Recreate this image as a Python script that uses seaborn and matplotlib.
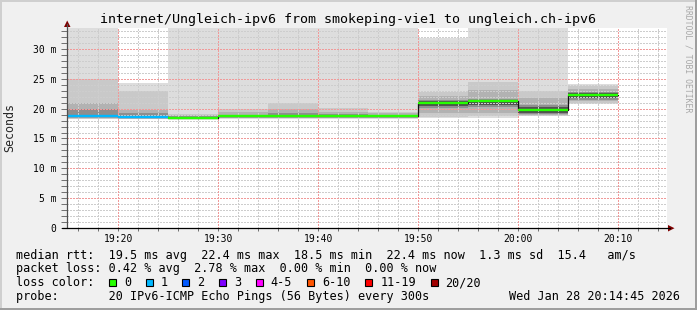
import numpy as np
import pandas as pd
import matplotlib
matplotlib.use("Agg")
import matplotlib.pyplot as plt
import seaborn as sns
from matplotlib.patches import Rectangle, Polygon
from matplotlib.lines import Line2D

# ---------------- data ----------------
title = "internet/Ungleich-ipv6 from smokeping-vie1 to ungleich.ch-ipv6"
# segment start, minutes after 19:00 (5 minute steps)
seg_start = [10, 15, 20, 25, 30, 35, 40, 45, 50, 55, 60, 65]
median_ms = [18.8, 18.8, 18.6, 18.5, 18.7, 18.8, 18.8, 18.8, 21.0, 21.3, 19.7, 22.3]
loss_pings = [0, 1, 1, 0, 0, 0, 0, 0, 0, 0, 0, 0]
max_ms = [36.0, 36.0, 24.3, 36.0, 36.0, 36.0, 36.0, 36.0, 31.8, 36.0, 36.0, 24.2]
p2_hi = [25.0, 25.0, 23.0, 19.1, 19.9, 21.0, 20.1, 19.5, 22.8, 24.5, 22.9, 23.8]
p3_hi = [20.9, 20.9, 19.8, 18.9, 19.4, 19.9, 19.5, 19.2, 22.2, 23.1, 21.8, 23.3]
p4_hi = [20.0, 20.0, 19.3, 18.8, 19.0, 19.2, 19.1, 19.0, 21.5, 21.7, 20.6, 22.8]
core_hi = [19.0, 19.0, 18.8, 18.6, 18.8, 18.9, 18.9, 18.9, 21.2, 21.5, 20.2, 22.6]
core_lo = [18.7, 18.7, 18.5, 18.4, 18.6, 18.7, 18.7, 18.7, 20.4, 20.6, 19.3, 21.8]
p4_lo = [18.6, 18.6, 18.5, 18.4, 18.6, 18.6, 18.6, 18.6, 20.1, 20.3, 19.1, 21.5]
p3_lo = [18.4, 18.4, 18.4, 18.3, 18.5, 18.5, 18.5, 18.5, 19.2, 19.3, 18.9, 21.2]
p2_lo = [18.3, 18.3, 18.3, 18.3, 18.4, 18.4, 18.4, 18.4, 18.6, 18.7, 18.8, 21.0]
min_ms = [18.2, 18.2, 18.2, 18.2, 18.3, 18.3, 18.3, 18.3, 18.4, 18.5, 18.7, 20.8]

x_ticks = [20, 30, 40, 50, 60, 70]
x_labels = ["19:20", "19:30", "19:40", "19:50", "20:00", "20:10"]
y_ticks = [0, 5, 10, 15, 20, 25, 30]
y_labels = ["0", "5 m", "10 m", "15 m", "20 m", "25 m", "30 m"]

loss_bins = ["0", "1", "2", "3", "4-5", "6-10", "11-19", "20/20"]
loss_colors = ["#26ff00", "#00b8ff", "#0059ff", "#7e00ff", "#ff00ff", "#ff5500", "#ff0000", "#a10000"]

rtt_stats = [19.5, 22.4, 18.5, 22.4, 1.3]
rtt_am_s = 15.4
loss_stats = [0.42, 2.78, 0.00, 0.00]
probe_text = "20 IPv6-ICMP Echo Pings (56 Bytes) every 300s"
stamp_text = "Wed Jan 28 20:14:45 2026"

# ---------------- style ----------------
W, H = 697, 310
sns.set_style("white")
plt.rcParams["font.family"] = ["DejaVu Sans Mono", "DejaVu Sans"]

fig = plt.figure(figsize=(W / 100, H / 100), dpi=100, facecolor="#f0f0f0")

def fx(x):
    return x / W

def fy(y):
    return 1 - y / H

ax_l, ax_r, ax_t, ax_b = 67, 667, 28, 228
ax = fig.add_axes([fx(ax_l), fy(ax_b), (ax_r - ax_l) / W, (ax_b - ax_t) / H])
ax.set_facecolor("white")
ax.set_xlim(14.87, 74.87)
ax.set_ylim(0, (ax_b - ax_t) / 5.967)

# smoke
edges = seg_start + [seg_start[-1] + 5]
def ext(a):
    return list(a) + [a[-1]]

layers = [
    (min_ms, max_ms, "#dddddd"),
    (p2_lo, p2_hi, "#c9c9c9"),
    (p3_lo, p3_hi, "#b2b2b2"),
    (p4_lo, p4_hi, "#8e8e8e"),
    (core_lo, core_hi, "#525252"),
]
for lo, hi, c in layers:
    ax.fill_between(edges, ext(lo), ext(hi), step="post", color=c, lw=0, zorder=1)

# grid (dotted, crisp)
minor_col = "#cdcdcd"
major_col = "#f09a9a"
dot = (0, (1.39, 1.39))
gkw = dict(lw=0.72, ls=dot, antialiased=False)
for m in np.arange(16, 75, 2):
    if m % 10 != 0:
        ax.axvline(m, color=minor_col, zorder=2, **gkw)
for v in np.arange(1, 34, 1):
    if v % 5 != 0:
        ax.axhline(v, color=minor_col, zorder=2, **gkw)
for m in x_ticks:
    ax.axvline(m, color=major_col, zorder=2.1, **gkw)
for v in y_ticks[1:]:
    ax.axhline(v, color=major_col, zorder=2.1, **gkw)

# median line
df = pd.DataFrame({"t": edges, "median": ext(median_ms)})
sns.lineplot(data=df, x="t", y="median", drawstyle="steps-post", color="#111111",
             lw=0.9, ax=ax, zorder=3, sort=False, estimator=None)
for s, m, l in zip(seg_start, median_ms, loss_pings):
    ax.hlines(m, s, s + 5, color=loss_colors[min(l, 7)], lw=1.7, zorder=4)

# ticks & labels
ax.set_xticks(x_ticks, x_labels)
ax.set_yticks(y_ticks, y_labels)
ax.set_yticks(np.arange(0, 34, 1), minor=True)
ax.set_xticks(np.arange(16, 75, 2), minor=True)
ax.tick_params(axis="y", which="both", length=4, width=0.7, color="#707070", pad=3.5,
               labelsize=7, labelcolor="black", left=True)
ax.tick_params(axis="x", which="both", length=2, width=0.7, color="#707070", pad=2.5,
               labelsize=7, labelcolor="black", bottom=True)
ax.set_xlabel("")
ax.set_ylabel("")
for sp in ax.spines.values():
    sp.set_visible(False)

# axes lines and arrows
fig.add_artist(Line2D([fx(ax_l), fx(ax_l)], [fy(ax_b), fy(24)], color="#505050", lw=0.9))
fig.add_artist(Line2D([fx(62), fx(670)], [fy(ax_b), fy(ax_b)], color="#000000", lw=0.9))
fig.add_artist(Polygon([(fx(64), fy(27)), (fx(70.5), fy(27)), (fx(67.2), fy(20.5))],
                       closed=True, color="#7f0000", lw=0))
fig.add_artist(Polygon([(fx(668), fy(225)), (fx(668), fy(231.5)), (fx(674.5), fy(228.2))],
                       closed=True, color="#7f0000", lw=0))

# title, axis label, watermark
fig.text(fx(348), fy(23), title, ha="center", va="baseline", fontsize=9.6, color="black")
fig.text(fx(10), fy(127), "Seconds", rotation=90, ha="center", va="center", fontsize=8.4)
fig.text(fx(688), fy(59), "RRDTOOL / TOBI OETIKER", rotation=270, ha="center", va="center",
         fontsize=5.9, color="#a8a8a8")

# legend block (monospaced rows)
fs = 8.45
def T(x, y, s, ha="left"):
    fig.text(fx(x), fy(y), s, ha=ha, va="baseline", fontsize=fs, color="black")

b1, b2, b3, b4 = 258.5, 272.2, 286, 299.6
row1 = ("median rtt:  "
        f"{rtt_stats[0]:.1f} ms avg  {rtt_stats[1]:.1f} ms max  {rtt_stats[2]:.1f} ms min  "
        f"{rtt_stats[3]:.1f} ms now  {rtt_stats[4]:.1f} ms sd  {rtt_am_s:.1f}   am/s")
row2 = ("packet loss: "
        f"{loss_stats[0]:.2f} % avg  {loss_stats[1]:.2f} % max  "
        f"{loss_stats[2]:.2f} % min  {loss_stats[3]:.2f} % now")
T(16, b1, row1)
T(16, b2, row2)

T(16, b3, "loss color:")
box_x = [109, 146, 182, 219, 256, 307, 365, 431]
lab_x = [124, 160.5, 197, 234, 270.5, 322, 380.5, 445.5]
for bx, lx, lab, col in zip(box_x, lab_x, loss_bins, loss_colors):
    fig.add_artist(Rectangle((fx(bx), fy(286)), 7 / W, 7 / H, facecolor=col,
                             edgecolor="black", lw=0.8))
    T(lx, b3, lab)

T(16, b4, "probe:       " + probe_text)
T(680, b4, stamp_text, ha="right")

# frame
fig.add_artist(Rectangle((0, fy(2)), 1, 2 / H, facecolor="#cfcfcf", lw=0))
fig.add_artist(Rectangle((0, 0), 2 / W, 1, facecolor="#cfcfcf", lw=0))
fig.add_artist(Rectangle((0, 0), 1, 2 / H, facecolor="#9e9e9e", lw=0))
fig.add_artist(Rectangle((fx(695), 0), 2 / W, 1, facecolor="#9e9e9e", lw=0))

fig.savefig("out.png", dpi=100, facecolor=fig.get_facecolor())
